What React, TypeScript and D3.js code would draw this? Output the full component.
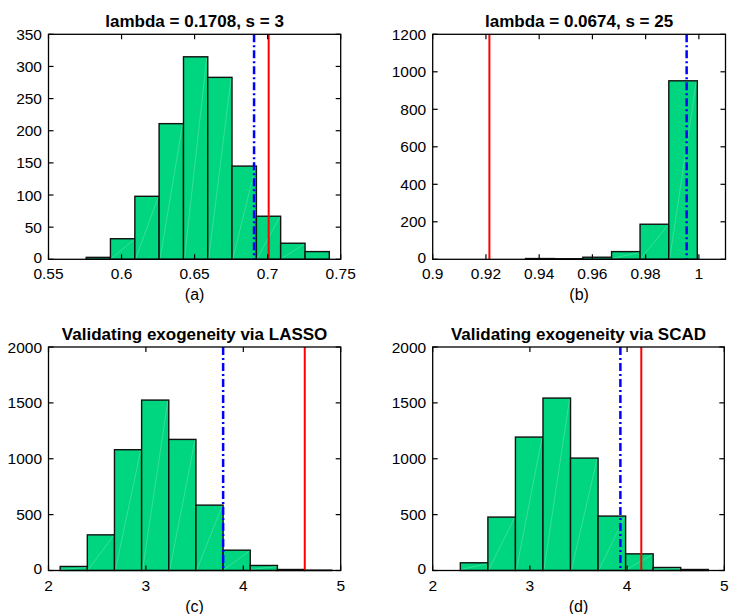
import React, { useRef, useEffect } from "react";
import * as d3 from "d3";

// bin edges + counts
const edgesA = [0.5758, 0.5924, 0.6091, 0.6257, 0.6424, 0.659, 0.6756, 0.6923, 0.7089, 0.7256, 0.7422];
const countsA = [3, 32, 98, 211, 315, 283, 145, 67, 25, 12];

const edgesB = [0.9349, 0.9457, 0.9564, 0.9672, 0.9779, 0.9887, 0.9994];
const countsB = [4, 3, 11, 41, 187, 952];

const edgesC = [2.1197, 2.3985, 2.6773, 2.9561, 3.2349, 3.5137, 3.7925, 4.0713, 4.3501, 4.6289, 4.9077];
const countsC = [36, 319, 1081, 1525, 1173, 585, 182, 45, 9, 3];

const edgesD = [2.001, 2.2844, 2.5678, 2.8512, 3.1346, 3.418, 3.7014, 3.9848, 4.2682, 4.5516, 4.835];
const countsD = [0, 69, 478, 1194, 1543, 1006, 487, 149, 27, 9];

// reference lines: [blue dash-dot, red solid]
const linesA = [0.6907, 0.7007];
const linesB = [0.9954, 0.9213];
const linesC = [3.793, 4.631];
const linesD = [3.931, 4.146];

const titles = [
  "lambda = 0.1708, s = 3",
  "lambda = 0.0674, s = 25",
  "Validating exogeneity via LASSO",
  "Validating exogeneity via SCAD",
];
const captions = ["(a)", "(b)", "(c)", "(d)"];

const xDomains = [[0.55, 0.75], [0.9, 1.01], [2, 5], [2, 5]];
const yDomains = [[0, 350], [0, 1200], [0, 2000], [0, 2000]];
const xTickVals = [
  [0.55, 0.6, 0.65, 0.7, 0.75],
  [0.9, 0.92, 0.94, 0.96, 0.98, 1],
  [2, 3, 4, 5],
  [2, 3, 4, 5],
];
const yTickVals = [
  [0, 50, 100, 150, 200, 250, 300, 350],
  [0, 200, 400, 600, 800, 1000, 1200],
  [0, 500, 1000, 1500, 2000],
  [0, 500, 1000, 1500, 2000],
];

const panels = [
  { edges: edgesA, counts: countsA, lines: linesA, box: { l: 48.5, r: 340.7, t: 34.3, b: 259.3 } },
  { edges: edgesB, counts: countsB, lines: linesB, box: { l: 432.7, r: 725.5, t: 34.3, b: 259.3 } },
  { edges: edgesC, counts: countsC, lines: linesC, box: { l: 48.5, r: 340.7, t: 347, b: 570.5 } },
  { edges: edgesD, counts: countsD, lines: linesD, box: { l: 432.7, r: 724.3, t: 347, b: 570.5 } },
];

const FONT = "'Liberation Sans', Arial, Helvetica, sans-serif";
const BAR_FILL = "#00d67f";

function App() {
  const svgRef = useRef(null);

  useEffect(() => {
    const svg = d3.select(svgRef.current);
    svg.selectAll("*").remove();

    panels.forEach((p, i) => {
      const { l, r, t, b } = p.box;
      const x = d3.scaleLinear().domain(xDomains[i]).range([l, r]);
      const y = d3.scaleLinear().domain(yDomains[i]).range([b, t]);
      const g = svg.append("g");

      const bins = p.counts.map((c, k) => ({ x0: p.edges[k], x1: p.edges[k + 1], c }));

      // bars
      g.selectAll(".bar")
        .data(bins)
        .enter()
        .append("rect")
        .attr("x", (d) => x(d.x0))
        .attr("y", (d) => y(d.c))
        .attr("width", (d) => x(d.x1) - x(d.x0))
        .attr("height", (d) => y(0) - y(d.c))
        .attr("fill", BAR_FILL)
        .attr("stroke", "#111")
        .attr("stroke-width", 1.4);

      // faint diagonal artifacts like the original render
      g.selectAll(".diag")
        .data(bins.filter((d) => d.c > 20))
        .enter()
        .append("line")
        .attr("x1", (d) => x(d.x0) + 1)
        .attr("y1", y(0) - 1)
        .attr("x2", (d) => x(d.x1) - 1)
        .attr("y2", (d) => y(d.c) + 1)
        .attr("stroke", "#fff")
        .attr("stroke-opacity", 0.35)
        .attr("stroke-width", 0.6);

      // blue dash-dot line
      g.append("line")
        .attr("x1", x(p.lines[0]))
        .attr("x2", x(p.lines[0]))
        .attr("y1", t)
        .attr("y2", b)
        .attr("stroke", "#0000ff")
        .attr("stroke-width", 2.5)
        .attr("stroke-dasharray", "8,3,2,3");

      // red solid line
      g.append("line")
        .attr("x1", x(p.lines[1]))
        .attr("x2", x(p.lines[1]))
        .attr("y1", t)
        .attr("y2", b)
        .attr("stroke", "#ff0000")
        .attr("stroke-width", 2);

      // inward ticks on all sides
      const tl = 5;
      xTickVals[i].forEach((v) => {
        g.append("line")
          .attr("x1", x(v)).attr("x2", x(v))
          .attr("y1", b).attr("y2", b - tl)
          .attr("stroke", "#000").attr("stroke-width", 1.2);
        g.append("line")
          .attr("x1", x(v)).attr("x2", x(v))
          .attr("y1", t).attr("y2", t + tl)
          .attr("stroke", "#000").attr("stroke-width", 1.2);
        g.append("text")
          .attr("x", x(v))
          .attr("y", b + 20)
          .attr("text-anchor", "middle")
          .attr("font-family", FONT)
          .attr("font-size", 15.5)
          .attr("fill", "#000")
          .text(String(v));
      });
      yTickVals[i].forEach((v) => {
        g.append("line")
          .attr("x1", l).attr("x2", l + tl)
          .attr("y1", y(v)).attr("y2", y(v))
          .attr("stroke", "#000").attr("stroke-width", 1.2);
        g.append("line")
          .attr("x1", r).attr("x2", r - tl)
          .attr("y1", y(v)).attr("y2", y(v))
          .attr("stroke", "#000").attr("stroke-width", 1.2);
        g.append("text")
          .attr("x", l - 6.5)
          .attr("y", y(v) + (v === 0 ? 3.5 : 5.5))
          .attr("text-anchor", "end")
          .attr("font-family", FONT)
          .attr("font-size", 15.5)
          .attr("fill", "#000")
          .text(String(v));
      });

      // box
      g.append("rect")
        .attr("x", l)
        .attr("y", t)
        .attr("width", r - l)
        .attr("height", b - t)
        .attr("fill", "none")
        .attr("stroke", "#000")
        .attr("stroke-width", 1.3);

      // title
      g.append("text")
        .attr("x", (l + r) / 2)
        .attr("y", t - 7.5)
        .attr("text-anchor", "middle")
        .attr("font-family", FONT)
        .attr("font-weight", "bold")
        .attr("font-size", 17)
        .attr("fill", "#000")
        .text(titles[i]);

      // caption
      g.append("text")
        .attr("x", (l + r) / 2)
        .attr("y", b + 41)
        .attr("text-anchor", "middle")
        .attr("font-family", FONT)
        .attr("font-size", 16)
        .attr("fill", "#000")
        .text(captions[i]);
    });
  }, []);

  return (
    <div style={{ position: "absolute", left: 0, top: 0 }}>
      <svg ref={svgRef} width={730} height={614} style={{ display: "block", background: "#fff" }}></svg>
    </div>
  );
}

export default App;
